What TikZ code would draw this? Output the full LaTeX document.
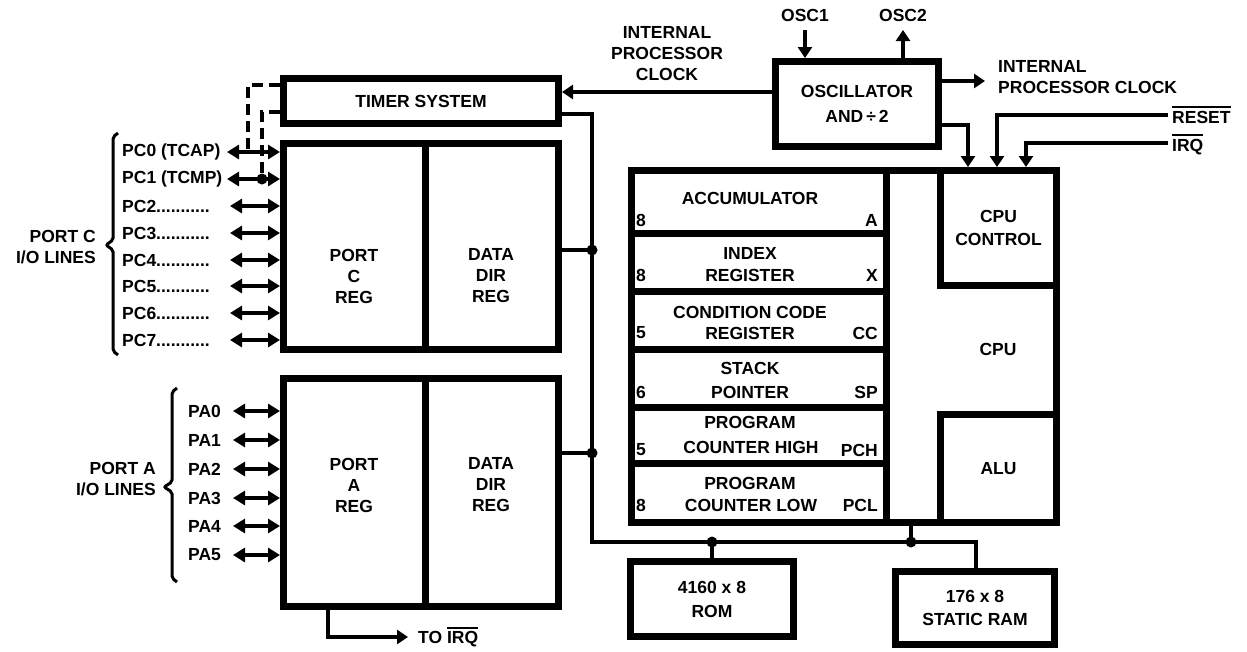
\documentclass[tikz,border=0pt]{standalone}
\usepackage{fontspec}
\setmainfont{Liberation Sans}
\usetikzlibrary{arrows.meta}
\newcommand\ovlbar[1]{\leavevmode\vbox{\hrule height 2pt\kern2.5pt\hbox{#1}}}
\begin{document}
\begin{tikzpicture}[x=1pt,y=-1pt,
  lbl/.style={font=\fontsize{17.5}{21}\selectfont\bfseries, inner sep=0pt, align=center},
  blk/.style={draw, line width=7pt, inner sep=0pt},
  wire/.style={line width=4.5pt},
  arr/.style={-{Triangle[width=14pt,length=11pt]}},
  dbl/.style={line width=3.8pt, {Triangle[width=14pt,length=12pt]}-{Triangle[width=14pt,length=12pt]}},
  dashline/.style={line width=4.5pt, dash pattern=on 11pt off 6pt},
  jdot/.style={circle, fill, inner sep=0pt, minimum size=11pt},
  brk/.style={line width=3pt, rounded corners=2pt},
]
\fill[white] (0,0) rectangle (1247,651);
\useasboundingbox (0,0) rectangle (1247,651);

% ---- boxes ----
\node[blk, lbl, minimum width=275pt, minimum height=45pt] (timer) at (421,101) {TIMER SYSTEM};
\node[blk, minimum width=141.5pt, minimum height=206pt] (pcl) at (354.25,246.5) {};
\node[blk, minimum width=133.5pt, minimum height=206pt] (pcr) at (491.75,246.5) {};
\node[blk, minimum width=141.5pt, minimum height=228pt] (pal) at (354.25,492.5) {};
\node[blk, minimum width=133.5pt, minimum height=228pt] (par) at (491.75,492.5) {};
\node[lbl] (pcltxt) at (354,276) {PORT\\C\\REG};
\node[lbl] (pcrtxt) at (491,276) {DATA\\DIR\\REG};
\node[lbl] (paltxt) at (354,485) {PORT\\A\\REG};
\node[lbl] (partxt) at (491,485) {DATA\\DIR\\REG};

\node[blk, lbl, minimum width=163pt, minimum height=85pt] (osc) at (857,104) {OSCILLATOR\\[4pt]AND\,÷\,2};

\node[blk, minimum width=425pt, minimum height=351.5pt] (cpu) at (844,346.25) {};
\node[blk, minimum width=255pt, minimum height=63pt] (r1) at (759,202) {};
\node[blk, minimum width=255pt, minimum height=58pt] (r2) at (759,262.5) {};
\node[blk, minimum width=255pt, minimum height=57.5pt] (r3) at (759,320.25) {};
\node[blk, minimum width=255pt, minimum height=58pt] (r4) at (759,378) {};
\node[blk, minimum width=255pt, minimum height=56.5pt] (r5) at (759,435.25) {};
\node[blk, minimum width=255pt, minimum height=58.5pt] (r6) at (759,492.75) {};
\node[blk, lbl, minimum width=116pt, minimum height=115pt] (ctrl) at (998.5,228) {CPU\\[2pt]CONTROL};
\node[blk, lbl, minimum width=116pt, minimum height=107.5pt] (alu) at (998.5,468.25) {ALU};
\node[lbl] (cputxt) at (998,349) {CPU};

\node[blk, lbl, minimum width=163pt, minimum height=75pt] (rom) at (712,599) {4160 x 8\\[3pt]ROM};
\node[blk, lbl, minimum width=159pt, minimum height=73pt] (ram) at (975,608) {176 x 8\\[2pt]STATIC RAM};

% ---- register texts ----
\node[lbl] (t1a) at (750,198) {ACCUMULATOR};
\node[lbl] (t1n) at (641,220) {8};
\node[lbl, anchor=east] (t1r) at (878,220) {A};
\node[lbl] (t2a) at (750,253) {INDEX};
\node[lbl] (t2b) at (750,275) {REGISTER};
\node[lbl] (t2n) at (641,275) {8};
\node[lbl, anchor=east] (t2r) at (878,275) {X};
\node[lbl] (t3a) at (750,312) {CONDITION CODE};
\node[lbl] (t3b) at (750,333) {REGISTER};
\node[lbl] (t3n) at (641,333) {5};
\node[lbl, anchor=east] (t3r) at (878,333) {CC};
\node[lbl] (t4a) at (750,368) {STACK};
\node[lbl] (t4b) at (750,392) {POINTER};
\node[lbl] (t4n) at (641,392) {6};
\node[lbl, anchor=east] (t4r) at (878,392) {SP};
\node[lbl] (t5a) at (750,422) {PROGRAM};
\node[lbl] (t5b) at (751,447) {COUNTER HIGH};
\node[lbl] (t5n) at (641,450) {5};
\node[lbl, anchor=east] (t5r) at (878,450) {PCH};
\node[lbl] (t6a) at (750,483) {PROGRAM};
\node[lbl] (t6b) at (751,505) {COUNTER LOW};
\node[lbl] (t6n) at (641,505) {8};
\node[lbl, anchor=east] (t6r) at (878,505) {PCL};

% ---- internal bus ----
\coordinate (bt) at (592,114);
\coordinate (bb) at (592,542);
\coordinate (br) at (976,542);
\coordinate (d1) at (592,250);
\coordinate (d2) at (592,453);
\coordinate (d3) at (712,542);
\coordinate (d4) at (911,542);
\draw[wire] (timer.east |- bt) -- (bt) -- (bb) -- (br) -- (br |- ram.north);
\draw[wire] (pcr.east |- d1) -- (d1);
\draw[wire] (par.east |- d2) -- (d2);
\draw[wire] (d3) -- (d3 |- rom.north);
\draw[wire] (d4) -- (d4 |- cpu.south);
\node[jdot] (j1) at (d1) {};
\node[jdot] (j2) at (d2) {};
\node[jdot] (j3) at (d3) {};
\node[jdot] (j4) at (d4) {};

% ---- TO IRQ ----
\coordinate (iro) at (328,637);
\coordinate (ire) at (408,637);
\draw[wire, arr] (iro |- par.south) -- (iro) -- (ire);
\node[lbl, anchor=base west] (toirq) at (418,643.5) {TO \ovlbar{IRQ}};

% ---- clocks ----
\coordinate (clk) at (700,92);
\draw[wire, arr] (osc.west |- clk) -- (timer.east |- clk);
\node[lbl] (clktxt) at (667,54) {INTERNAL\\PROCESSOR\\CLOCK};
\coordinate (clk2) at (985,81);
\draw[wire, arr] (osc.east |- clk2) -- (clk2);
\node[lbl, anchor=west, align=left] (clk2txt) at (998,77) {INTERNAL\\PROCESSOR CLOCK};
\coordinate (oc) at (968,125);
\draw[wire, arr] (osc.east |- oc) -- (oc) -- (oc |- cpu.north);

\coordinate (o1) at (805,30);
\draw[wire, arr] (o1) -- (o1 |- osc.north);
\node[lbl] (osc1) at (805,15) {OSC1};
\coordinate (o2) at (903,30);
\draw[wire, arr] (o2 |- osc.north) -- (o2);
\node[lbl] (osc2) at (903,15) {OSC2};

% ---- RESET / IRQ ----
\coordinate (rs0) at (1168,115);
\coordinate (rs1) at (997,115);
\draw[wire, arr] (rs0) -- (rs1) -- (rs1 |- cpu.north);
\node[lbl, anchor=base west] (reset) at (1172,123) {\ovlbar{RESET}};
\coordinate (iq0) at (1168,143);
\coordinate (iq1) at (1026,143);
\draw[wire, arr] (iq0) -- (iq1) -- (iq1 |- cpu.north);
\node[lbl, anchor=base west] (irq) at (1172,151) {\ovlbar{IRQ}};

% ---- dashed timer lines ----
\coordinate (da) at (248,85);
\coordinate (db) at (248,152);
\coordinate (dc) at (262,112);
\coordinate (dd) at (262,179);
\draw[dashline] (timer.west |- da) -- (da) -- (db);
\draw[dashline] (timer.west |- dc) -- (dc) -- (dd);

% ---- port C lines ----
\foreach \i/\y/\xs/\t in {0/152/227/{PC0 (TCAP)}, 1/179/227/{PC1 (TCMP)}, 2/206/230/{PC2...........}, 3/233/230/{PC3...........}, 4/260/230/{PC4...........}, 5/286/230/{PC5...........}, 6/313/230/{PC6...........}, 7/340/230/{PC7...........}}{
  \node[lbl, anchor=west] (pc\i) at (122,\y) {\t};
  \coordinate (ps\i) at (\xs,\y);
  \draw[dbl] (ps\i) -- (pcl.west |- ps\i);
}
\node[jdot] (jd) at (dd) {};
\node[lbl, anchor=east, align=right] (portc) at (96,247) {PORT C\\I/O LINES};
\draw[brk] (118,133) -- (113,137) -- (113,240) -- (106,245) -- (113,250) -- (113,351) -- (118,355);

% ---- port A lines ----
\foreach \i/\y in {0/411, 1/440, 2/469, 3/498, 4/526, 5/555}{
  \node[lbl, anchor=west] (pa\i) at (188,\y) {PA\i};
  \coordinate (qs\i) at (233,\y);
  \draw[dbl] (qs\i) -- (pal.west |- qs\i);
}
\node[lbl, anchor=east, align=right] (porta) at (156,479) {PORT A\\I/O LINES};
\draw[brk] (177,388) -- (172,392) -- (172,482) -- (164,487) -- (172,492) -- (172,578) -- (177,582);
\end{tikzpicture}
\end{document}
